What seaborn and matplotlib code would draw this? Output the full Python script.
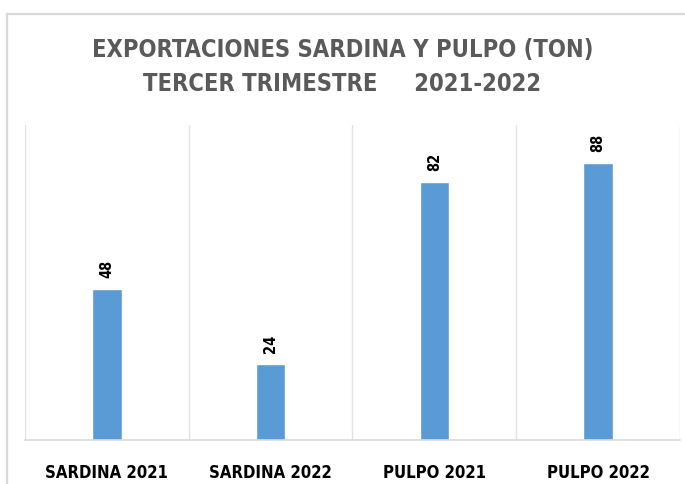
import numpy as np
import pandas as pd
import matplotlib.pyplot as plt
import matplotlib.lines as mlines
import seaborn as sns

# data
categorias = ['SARDINA 2021', 'SARDINA 2022', 'PULPO 2021', 'PULPO 2022']
toneladas = [48, 24, 82, 88]
titulo = 'EXPORTACIONES SARDINA Y PULPO (TON)\nTERCER TRIMESTRE     2021-2022'

df = pd.DataFrame({'cat': categorias, 'ton': toneladas})

sns.set_style('white')
plt.rcParams['font.family'] = ['DejaVu Sans']
plt.rcParams['font.stretch'] = 'condensed'

bar_color = '#5b9bd5'
grid_color = '#e3e3e3'
frame_color = '#d9d9d9'

fig = plt.figure(figsize=(6.85, 4.84), dpi=100)
ax = fig.add_axes([0.0365, 0.0909, 0.956, 0.6508])

sns.barplot(data=df, x='cat', y='ton', color=bar_color, width=0.18,
            saturation=1, ax=ax)

ax.set_xlim(-0.5, 3.5)
ax.set_ylim(0, 100)
ax.set_yticks([])
ax.set_xlabel('')
ax.set_ylabel('')
for xv in np.arange(-0.5, 4, 1):
    ax.axvline(xv, color=grid_color, linewidth=1, zorder=0)
for s in ['top', 'left', 'right']:
    ax.spines[s].set_visible(False)
ax.spines['bottom'].set_color(frame_color)
ax.spines['bottom'].set_linewidth(1.2)

ax.tick_params(axis='x', length=0, pad=17)
ax.set_xticks(range(len(categorias)))
ax.set_xticklabels(categorias, fontsize=12, fontweight='bold', color='black',
                   fontstretch='condensed')

# value labels
for i, v in enumerate(toneladas):
    ax.text(i, v + 3.5, str(v), rotation=90, ha='center', va='bottom',
            fontsize=10.5, fontweight='bold', color='black')

# title
fig.text(0.5, 0.862, titulo, ha='center', va='center', fontsize=17,
         fontweight='bold', color='#5a5a5a', linespacing=1.5,
         fontstretch='condensed')

# outer chart frame
fig.add_artist(mlines.Line2D([7/685, 1], [1 - 14/484, 1 - 14/484],
                             color=frame_color, linewidth=1.6,
                             transform=fig.transFigure))
fig.add_artist(mlines.Line2D([7/685, 7/685], [0, 1 - 14/484],
                             color=frame_color, linewidth=1.6,
                             transform=fig.transFigure))

plt.savefig('out.png', dpi=100)
